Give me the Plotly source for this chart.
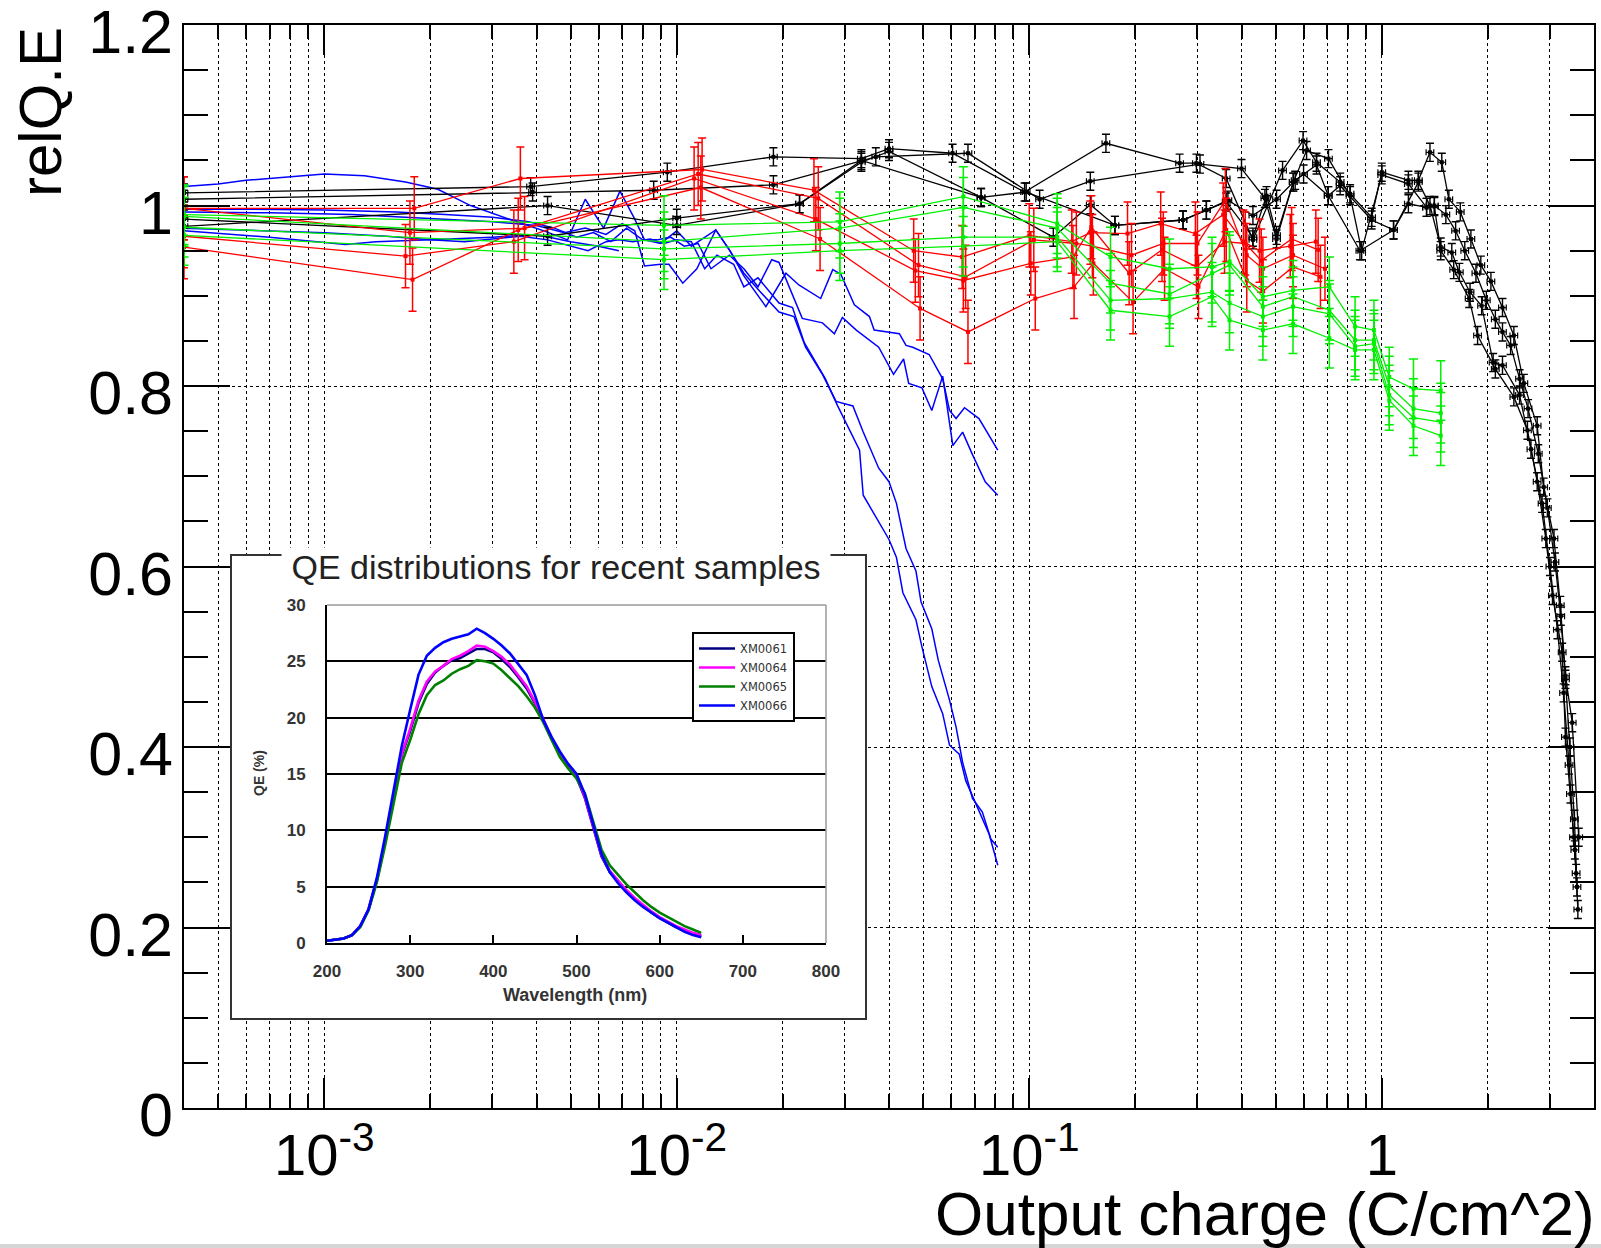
import math
import plotly.graph_objects as go

# ---------------- main chart data (relQ.E vs output charge) ----------------
BK1_X = [4e-4, 3.85e-3, 9.4e-3, 1.88e-2, 3.34e-2, 4.0e-2, 6.06e-2, 9.7e-2, 0.165, 0.267, 0.298, 0.362, 0.431, 0.523, 0.598, 0.653, 0.762, 0.813, 0.936, 1.0, 1.19, 1.27, 1.37, 1.48, 1.55, 1.67, 1.79, 1.91, 2.04, 2.2, 2.37, 2.53, 2.76, 2.88, 3.08, 3.21, 3.32, 3.47, 3.62]
BK1_Y = [1.014, 1.021, 1.037, 1.054, 1.052, 1.063, 1.058, 1.015, 1.069, 1.047, 1.047, 1.030, 0.962, 1.039, 1.072, 1.048, 1.026, 1.013, 0.987, 1.037, 1.028, 1.028, 1.059, 1.048, 1.007, 0.993, 0.963, 0.934, 0.916, 0.887, 0.856, 0.803, 0.756, 0.688, 0.631, 0.557, 0.479, 0.427, 0.300]
BK2_X = [4e-4, 3.9e-3, 8.6e-3, 1.88e-2, 3.67e-2, 6.7e-2, 0.107, 0.149, 0.305, 0.40, 0.466, 0.503, 0.561, 0.612, 0.706, 0.813, 0.877, 1.0, 1.19, 1.34, 1.41, 1.52, 1.62, 1.72, 1.85, 1.98, 2.1, 2.2, 2.32, 2.46, 2.6, 2.78, 2.95, 3.1, 3.22, 3.32, 3.42, 3.52, 3.58]
BK2_Y = [1.007, 1.015, 1.017, 1.023, 1.054, 1.058, 1.007, 1.027, 1.046, 1.041, 1.008, 0.963, 1.026, 1.061, 1.052, 1.011, 0.950, 1.034, 1.024, 0.998, 1.0, 0.99, 0.972, 0.95, 0.925, 0.895, 0.874, 0.86, 0.845, 0.808, 0.775, 0.725, 0.665, 0.605, 0.545, 0.475, 0.40, 0.32, 0.245]
BK3_X = [4e-4, 4.3e-3, 1.0e-2, 2.23e-2, 3.34e-2, 7.3e-2, 0.117, 0.149, 0.175, 0.273, 0.318, 0.362, 0.431, 0.471, 0.503, 0.561, 0.60, 0.705, 0.867, 1.08, 1.19, 1.34, 1.41, 1.47, 1.60, 1.77, 1.87, 2.10, 2.37, 2.59, 2.76, 2.92, 3.05, 3.25, 3.32, 3.43, 3.53, 3.60]
BK3_Y = [0.985, 0.966, 0.986, 1.002, 1.05, 1.009, 0.965, 1.001, 0.978, 0.984, 0.995, 1.004, 0.965, 1.011, 0.967, 1.026, 1.035, 1.011, 0.950, 0.973, 1.002, 0.998, 0.999, 0.950, 0.929, 0.897, 0.856, 0.819, 0.788, 0.751, 0.694, 0.631, 0.568, 0.505, 0.411, 0.348, 0.286, 0.220]
BK4_X = [4e-4, 4.3e-3, 1.0e-2, 2.23e-2, 3.34e-2, 4.0e-2, 7.3e-2, 0.098, 0.175, 0.273, 0.318, 0.366, 0.431, 0.503, 0.568, 0.653, 0.705, 0.762, 0.936, 1.08, 1.27, 1.37, 1.47, 1.58, 1.66, 1.78, 1.92, 2.07, 2.2, 2.46, 2.65, 2.85, 3.0, 3.15, 3.28, 3.4, 3.5, 3.56]
BK4_Y = [0.977, 1.0, 0.978, 1.002, 1.048, 1.060, 1.009, 1.015, 0.978, 0.984, 0.995, 1.006, 0.989, 1.007, 1.028, 1.045, 1.011, 1.022, 0.984, 0.973, 1.026, 1.0, 0.954, 0.948, 0.926, 0.904, 0.889, 0.826, 0.823, 0.79, 0.73, 0.67, 0.60, 0.53, 0.46, 0.38, 0.30, 0.26]

R1_X = [4e-4, 1.78e-3, 3.55e-3, 1.17e-2, 2.55e-2, 4.9e-2, 6.7e-2, 0.104, 0.134, 0.152, 0.197, 0.242, 0.302, 0.362, 0.414, 0.46, 0.56, 0.67]
R1_Y = [0.954, 0.918, 0.973, 1.02, 0.963, 0.886, 0.860, 0.897, 0.910, 0.936, 0.893, 0.930, 0.910, 0.973, 0.917, 0.905, 0.932, 0.921]
R2_X = [4e-4, 1.70e-3, 3.45e-3, 1.12e-2, 2.48e-2, 4.75e-2, 6.5e-2, 0.101, 0.133, 0.150, 0.192, 0.238, 0.298, 0.358, 0.41, 0.455, 0.555, 0.66]
R2_Y = [0.966, 0.944, 0.96, 1.03, 0.985, 0.928, 0.917, 0.936, 0.943, 0.976, 0.925, 0.951, 0.932, 0.96, 0.958, 0.939, 0.963, 0.951]
R3_X = [4e-4, 1.75e-3, 3.7e-3, 1.15e-2, 2.52e-2, 4.85e-2, 6.6e-2, 0.103, 0.136, 0.151, 0.195, 0.24, 0.30, 0.36, 0.414, 0.46, 0.56, 0.69]
R3_Y = [0.997, 0.97, 0.975, 1.035, 1.008, 0.934, 0.921, 0.962, 0.958, 0.955, 0.945, 0.958, 0.958, 1.006, 0.945, 0.93, 0.945, 0.93]
R4_X = [4e-4, 1.8e-3, 3.6e-3, 1.18e-2, 2.45e-2, 4.7e-2, 6.45e-2, 0.10, 0.132, 0.149, 0.19, 0.236, 0.296, 0.355, 0.405, 0.45, 0.55, 0.65]
R4_Y = [0.997, 0.997, 1.03, 1.04, 1.017, 0.950, 0.943, 0.967, 0.96, 0.97, 0.969, 0.980, 0.969, 0.99, 0.96, 0.95, 0.955, 0.96]

G_X = [4e-4, 9.2e-3, 2.9e-2, 6.5e-2, 0.12, 0.17, 0.25, 0.33, 0.37, 0.46, 0.56, 0.71, 0.84, 0.95, 1.05, 1.23, 1.47]
G1_Y = [0.99, 0.978, 0.982, 1.01, 0.98, 0.943, 0.93, 0.932, 0.938, 0.899, 0.906, 0.910, 0.866, 0.862, 0.81, 0.797, 0.795]
G2_Y = [0.988, 0.96, 0.975, 0.998, 0.975, 0.914, 0.902, 0.925, 0.934, 0.888, 0.899, 0.884, 0.851, 0.851, 0.80, 0.775, 0.77]
G3_Y = [0.976, 0.952, 0.958, 0.965, 0.965, 0.895, 0.897, 0.904, 0.892, 0.877, 0.888, 0.880, 0.844, 0.847, 0.79, 0.765, 0.76]
G4_Y = [0.967, 0.94, 0.95, 0.955, 0.96, 0.884, 0.877, 0.899, 0.873, 0.862, 0.869, 0.853, 0.840, 0.840, 0.784, 0.756, 0.745]

BL1_X = [4e-4, 5e-4, 6e-4, 7.5e-4, 1.0e-3, 1.3e-3, 1.7e-3, 2.1e-3, 2.6e-3, 3.4e-3, 4.2e-3, 4.9e-3, 5.5e-3, 6.2e-3, 6.9e-3, 7.6e-3, 8.1e-3, 9.0e-3, 1.0e-2, 1.1e-2, 1.29e-2, 1.41e-2, 1.55e-2, 1.79e-2, 2.04e-2, 2.22e-2, 2.56e-2, 2.77e-2, 2.92e-2, 3.19e-2, 3.52e-2, 3.63e-2, 4.0e-2, 4.28e-2, 4.47e-2, 4.67e-2, 5.2e-2, 5.68e-2, 5.94e-2, 6.2e-2, 6.55e-2, 7.2e-2, 8.14e-2]
BL1_Y = [1.021, 1.024, 1.028, 1.031, 1.035, 1.033, 1.026, 1.018, 1.0, 0.984, 0.972, 0.962, 1.007, 0.975, 1.016, 0.985, 0.962, 0.958, 0.972, 0.955, 0.973, 0.951, 0.922, 0.888, 0.925, 0.912, 0.897, 0.929, 0.924, 0.890, 0.877, 0.862, 0.860, 0.858, 0.845, 0.843, 0.835, 0.808, 0.773, 0.764, 0.776, 0.764, 0.729]
BL2_X = [4e-4, 6e-4, 1e-3, 1.6e-3, 2.2e-3, 3.0e-3, 3.8e-3, 4.5e-3, 5.2e-3, 5.8e-3, 6.5e-3, 7.2e-3, 8.0e-3, 8.8e-3, 9.6e-3, 1.05e-2, 1.15e-2, 1.25e-2, 1.41e-2, 1.55e-2, 1.7e-2, 1.86e-2, 1.95e-2, 2.27e-2, 2.59e-2, 2.8e-2, 2.95e-2, 3.23e-2, 3.74e-2, 4.12e-2, 4.4e-2, 4.55e-2, 4.96e-2, 5.29e-2, 5.68e-2, 6.07e-2, 6.47e-2, 6.9e-2, 7.5e-2, 8.14e-2]
BL2_Y = [0.996, 0.996, 0.995, 0.993, 0.99, 0.987, 0.982, 0.975, 0.965, 0.97, 0.96, 0.975, 0.962, 0.962, 0.965, 0.955, 0.958, 0.93, 0.945, 0.93, 0.91, 0.94, 0.937, 0.875, 0.870, 0.858, 0.876, 0.862, 0.843, 0.813, 0.830, 0.803, 0.798, 0.773, 0.811, 0.734, 0.749, 0.724, 0.694, 0.679]
BL3_X = [4e-4, 7e-4, 1.2e-3, 2e-3, 3e-3, 4e-3, 4.8e-3, 5.5e-3, 6.3e-3, 7.0e-3, 7.6e-3, 8.1e-3, 9.0e-3, 9.5e-3, 1.04e-2, 1.14e-2, 1.29e-2, 1.41e-2, 1.55e-2, 1.72e-2, 1.95e-2, 2.15e-2, 2.32e-2, 2.59e-2, 2.83e-2, 3.16e-2, 3.38e-2, 3.74e-2, 4.0e-2, 4.2e-2, 4.47e-2, 4.77e-2, 4.93e-2, 5.29e-2, 5.52e-2, 5.94e-2, 6.2e-2, 6.47e-2, 6.9e-2, 7.36e-2, 7.78e-2, 8.14e-2]
BL3_Y = [0.993, 0.992, 0.99, 0.986, 0.982, 0.978, 0.97, 0.975, 0.968, 0.98, 0.972, 0.933, 0.935, 0.935, 0.914, 0.93, 0.973, 0.951, 0.925, 0.905, 0.882, 0.877, 0.843, 0.813, 0.783, 0.778, 0.749, 0.709, 0.694, 0.670, 0.620, 0.595, 0.561, 0.531, 0.496, 0.452, 0.422, 0.383, 0.343, 0.328, 0.298, 0.289]
BL4_X = [4e-4, 6e-4, 1e-3, 1.5e-3, 2e-3, 2.5e-3, 3.0e-3, 3.6e-3, 4.3e-3, 5e-3, 5.6e-3, 6.3e-3, 6.85e-3, 7.5e-3, 8.4e-3, 9.2e-3, 1.0e-2, 1.1e-2, 1.2e-2, 1.3e-2, 1.45e-2, 1.55e-2, 1.7e-2, 1.95e-2, 2.13e-2, 2.3e-2, 2.64e-2, 2.86e-2, 3.3e-2, 3.38e-2, 3.74e-2, 4.0e-2, 4.2e-2, 4.38e-2, 4.77e-2, 4.96e-2, 5.29e-2, 5.68e-2, 5.94e-2, 6.33e-2, 6.6e-2, 7.2e-2, 7.7e-2, 8.14e-2]
BL4_Y = [0.975, 0.973, 0.97, 0.966, 0.962, 0.96, 0.963, 0.966, 0.962, 0.955, 0.95, 0.96, 0.962, 0.96, 0.963, 0.958, 0.962, 0.96, 0.93, 0.945, 0.935, 0.91, 0.92, 0.892, 0.887, 0.848, 0.808, 0.778, 0.729, 0.679, 0.650, 0.630, 0.610, 0.571, 0.541, 0.511, 0.467, 0.437, 0.402, 0.392, 0.363, 0.328, 0.303, 0.269]
BL5_X = [4e-4, 7e-4, 1.15e-3, 1.4e-3, 2e-3, 3e-3, 4e-3, 5e-3, 6e-3, 6.85e-3]
BL5_Y = [0.972, 0.965, 0.957, 0.96, 0.962, 0.965, 0.968, 0.96, 0.955, 0.95]

X_TICKS = [1e-3, 1e-2, 1e-1, 1]
X_TICKTEXT = ["10<sup>-3</sup>", "10<sup>-2</sup>", "10<sup>-1</sup>", "1"]
Y_TICKS = [0, 0.2, 0.4, 0.6, 0.8, 1.0, 1.2]
Y_TICKTEXT = ["0", "0.2", "0.4", "0.6", "0.8", "1", "1.2"]

# ---------------- inset data (QE vs wavelength) ----------------
WL = [200, 210, 220, 230, 240, 250, 260, 270, 280, 290, 300, 310, 320, 330, 340, 350, 360, 370, 380, 390,
      400, 410, 420, 430, 440, 450, 460, 470, 480, 490, 500, 510, 520, 530, 540, 550, 560, 570, 580, 590,
      600, 610, 620, 630, 640, 650]
QE_XM0061 = [0.2, 0.3, 0.4, 0.7, 1.5, 3.0, 5.6, 9.0, 13.0, 16.7, 18.8, 21.3, 23.0, 24.0, 24.6, 25.1, 25.3, 25.7, 26.1, 26.1,
             25.8, 25.2, 24.5, 23.6, 22.6, 21.3, 19.8, 18.1, 16.7, 15.6, 14.7, 12.9, 10.3, 7.7, 6.3, 5.4, 4.6, 3.9, 3.3, 2.7,
             2.2, 1.8, 1.4, 1.1, 0.8, 0.6]
QE_XM0064 = [0.2, 0.3, 0.4, 0.7, 1.5, 3.0, 5.6, 9.0, 13.0, 16.8, 19.0, 21.5, 23.2, 24.1, 24.6, 25.2, 25.5, 25.9, 26.4, 26.3,
             25.9, 25.4, 24.7, 23.8, 22.8, 21.4, 19.9, 18.2, 16.8, 15.7, 14.8, 13.0, 10.4, 7.8, 6.4, 5.5, 4.7, 4.0, 3.4, 2.8,
             2.3, 1.9, 1.5, 1.2, 0.9, 0.7]
QE_XM0065 = [0.2, 0.3, 0.4, 0.7, 1.4, 2.9, 5.4, 8.7, 12.5, 16.0, 18.0, 20.3, 22.0, 22.9, 23.3, 23.9, 24.3, 24.6, 25.1, 25.0,
             24.8, 24.2, 23.5, 22.8, 21.9, 20.9, 19.6, 18.0, 16.5, 15.5, 14.6, 13.3, 10.8, 8.3, 6.9, 6.0, 5.2, 4.5, 3.8, 3.2,
             2.7, 2.3, 1.9, 1.5, 1.2, 0.9]
QE_XM0066 = [0.2, 0.3, 0.4, 0.7, 1.5, 3.0, 5.8, 9.5, 13.5, 17.5, 20.7, 23.8, 25.5, 26.2, 26.7, 27.0, 27.2, 27.4, 27.9, 27.5,
             27.0, 26.4, 25.7, 24.8, 23.8, 22.0, 19.8, 18.3, 17.0, 15.9, 15.0, 13.2, 10.5, 7.9, 6.3, 5.3, 4.5, 3.8, 3.2, 2.7,
             2.2, 1.8, 1.4, 1.0, 0.7, 0.5]
INSET_NAMES = ["XM0061", "XM0064", "XM0065", "XM0066"]
INSET_COLORS = ["#000080", "#ff00ff", "#008000", "#0000ff"]

# ---------------- geometry (pixels of the 1601x1248 page) ----------------
W, H = 1601, 1248
L, R, T, B = 184, 7, 25, 140
PW, PH = W - L - R, H - T - B


def px(xp):
    return (xp - L) / PW


def py(yp):
    return (H - B - yp) / PH


fig = go.Figure()

# blue series: lines only
for xs, ys in [(BL1_X, BL1_Y), (BL2_X, BL2_Y), (BL3_X, BL3_Y), (BL4_X, BL4_Y), (BL5_X, BL5_Y)]:
    fig.add_trace(go.Scatter(x=xs, y=ys, mode="lines", line=dict(color="#0000ff", width=1.5),
                             showlegend=False, hoverinfo="skip"))

# black series with error bars
for xs, ys in [(BK1_X, BK1_Y), (BK2_X, BK2_Y), (BK3_X, BK3_Y), (BK4_X, BK4_Y)]:
    fig.add_trace(go.Scatter(x=xs, y=ys, mode="lines+markers",
                             line=dict(color="black", width=1.3),
                             marker=dict(color="black", size=4, symbol="square"),
                             error_y=dict(type="constant", value=0.01, color="black", thickness=1.4, width=4),
                             error_x=dict(type="percent", value=2.5, color="black", thickness=1.2, width=3),
                             showlegend=False, hoverinfo="skip"))

# red series
for xs, ys in [(R1_X, R1_Y), (R2_X, R2_Y), (R3_X, R3_Y), (R4_X, R4_Y)]:
    fig.add_trace(go.Scatter(x=xs, y=ys, mode="lines+markers",
                             line=dict(color="#ff0000", width=1.3),
                             marker=dict(color="#ff0000", size=4, symbol="square"),
                             error_y=dict(type="constant", value=0.035, color="#ff0000", thickness=1.5, width=4),
                             showlegend=False, hoverinfo="skip"))

# green series
for ys in [G1_Y, G2_Y, G3_Y, G4_Y]:
    fig.add_trace(go.Scatter(x=G_X, y=ys, mode="lines+markers",
                             line=dict(color="#00f000", width=1.3),
                             marker=dict(color="#00f000", size=4, symbol="square"),
                             error_y=dict(type="constant", value=0.033, color="#00f000", thickness=1.5, width=4.5),
                             showlegend=False, hoverinfo="skip"))

# inset outer box (subplot x2/y2) - empty trace so the subplot exists
fig.add_trace(go.Scatter(x=[], y=[], xaxis="x2", yaxis="y2", showlegend=False, hoverinfo="skip"))

# inset chart curves (subplot x3/y3)
for name, color, ys in zip(INSET_NAMES, INSET_COLORS, [QE_XM0061, QE_XM0064, QE_XM0065, QE_XM0066]):
    fig.add_trace(go.Scatter(x=WL, y=ys, mode="lines", name=name, xaxis="x3", yaxis="y3",
                             line=dict(color=color, width=2.6), hoverinfo="skip"))

XMINOR = []
for e in range(-4, 1):
    for k in range(2, 10):
        v = k * 10 ** e
        if 4e-4 < v < 4:
            XMINOR.append(v)

FONT = "Liberation Sans, Arial, Helvetica, sans-serif"

fig.update_layout(
    template="none",
    width=W, height=H, autosize=False,
    margin=dict(l=L, r=R, t=T, b=B, pad=0, autoexpand=False),
    paper_bgcolor="white", plot_bgcolor="white",
    font=dict(family=FONT, color="black"),
    xaxis=dict(
        type="log", range=[math.log10(4e-4), math.log10(4)], automargin=False,
        tickmode="array", tickvals=X_TICKS, ticktext=X_TICKTEXT,
        ticks="inside", ticklen=30, tickwidth=1.5, tickcolor="black",
        showline=True, linecolor="black", linewidth=1.5, mirror="ticks",
        showgrid=True, gridcolor="black", griddash="dot", gridwidth=1,
        zeroline=False,
        tickfont=dict(family=FONT, size=58, color="black"),
        ticklabelstandoff=-4, ticklabeloverflow="allow",
        minor=dict(tickmode="array", tickvals=XMINOR, ticks="inside", ticklen=14, tickwidth=1.5,
                   tickcolor="black", showgrid=True, gridcolor="black", griddash="dot", gridwidth=1),
    ),
    yaxis=dict(
        range=[0, 1.2001], automargin=False, tickmode="array", tickvals=Y_TICKS, ticktext=Y_TICKTEXT,
        ticks="inside", ticklen=46, tickwidth=1.5, tickcolor="black",
        showline=True, linecolor="black", linewidth=1.5, mirror="ticks",
        showgrid=True, gridcolor="black", griddash="dot", gridwidth=1,
        zeroline=False,
        tickfont=dict(family=FONT, size=61, color="black"),
        ticklabelstandoff=-3, ticklabelshift=7, ticklabeloverflow="allow",
        minor=dict(tickmode="linear", tick0=0, dtick=0.05, ticks="inside", ticklen=24, tickwidth=1.5,
                   tickcolor="black", showgrid=False),
    ),
    xaxis2=dict(domain=[px(232), px(865)], anchor="y2", range=[0, 1], showline=True, mirror=True,
                linecolor="#333333", linewidth=2, showgrid=False, zeroline=False, automargin=False,
                showticklabels=False, ticks="", fixedrange=True),
    yaxis2=dict(domain=[py(1018), py(556)], anchor="x2", range=[0, 1], showline=True, mirror=True,
                linecolor="#333333", linewidth=2, showgrid=False, zeroline=False, automargin=False,
                showticklabels=False, ticks="", fixedrange=True),
    xaxis3=dict(domain=[px(327), px(826)], anchor="y3", range=[200, 800], tick0=200, dtick=100,
                ticks="inside", ticklen=8, tickwidth=2, tickcolor="black", automargin=False,
                showline=True, linecolor="black", linewidth=2, showgrid=False, zeroline=False,
                tickfont=dict(family=FONT, size=17, color="#333333", weight="bold"),
                ticklabelstandoff=12),
    yaxis3=dict(domain=[py(943), py(605)], anchor="x3", range=[0, 30], tick0=0, dtick=5,
                ticks="", showline=True, linecolor="black", linewidth=2, automargin=False,
                showgrid=True, gridcolor="black", gridwidth=1.5, zeroline=False,
                tickfont=dict(family=FONT, size=17, color="#333333", weight="bold"),
                ticklabelstandoff=16),
    showlegend=True,
    legend=dict(x=px(692), y=py(632), xanchor="left", yanchor="top",
                bgcolor="white", bordercolor="black", borderwidth=2,
                font=dict(family="DejaVu Sans, sans-serif", size=11.5, color="#333333"),
                tracegroupgap=0, itemwidth=36),
    annotations=[
        dict(text="relQ.E", xref="paper", yref="paper", x=px(40), y=py(25), xanchor="center", yanchor="top",
             textangle=-90, showarrow=False, font=dict(family=FONT, size=60, color="black")),
        dict(text="Output charge (C/cm^2)", xref="paper", yref="paper", x=px(1597), y=py(1213),
             xanchor="right", yanchor="middle", showarrow=False, font=dict(family=FONT, size=62, color="black")),
        dict(text="QE distributions for recent samples", xref="paper", yref="paper", x=px(556), y=py(567),
             xanchor="center", yanchor="middle", showarrow=False, width=548, bgcolor="white", borderpad=0,
             font=dict(family=FONT, size=34, color="#222222")),
        dict(text="QE (%)", xref="paper", yref="paper", x=px(259), y=py(773), xanchor="center", yanchor="middle",
             textangle=-90, showarrow=False, font=dict(family=FONT, size=14, color="#333333", weight="bold")),
        dict(text="Wavelength (nm)", xref="paper", yref="paper", x=px(575), y=py(995), xanchor="center",
             yanchor="middle", showarrow=False, font=dict(family=FONT, size=18, color="#333333", weight="bold")),
    ],
    shapes=[
        # gray top and right frame of the inset chart
        dict(type="line", xref="x3 domain", yref="y3 domain", x0=0, x1=1, y0=1, y1=1,
             line=dict(color="#9a9a9a", width=1.5), layer="above"),
        dict(type="line", xref="x3 domain", yref="y3 domain", x0=1, x1=1, y0=0, y1=1,
             line=dict(color="#9a9a9a", width=1.5), layer="above"),
        # light gray strip at the very bottom of the page
        dict(type="rect", xref="paper", yref="paper", x0=px(0), x1=px(W), y0=py(1244), y1=py(H),
             fillcolor="#d6d6d6", line=dict(width=0), layer="above"),
    ],
)

fig.write_html(
    "out.html",
    config={"responsive": False, "displayModeBar": False},
    post_script="document.body.style.margin='0';document.body.style.padding='0';"
                "document.documentElement.style.overflow='hidden';document.body.style.overflow='hidden';",
)
